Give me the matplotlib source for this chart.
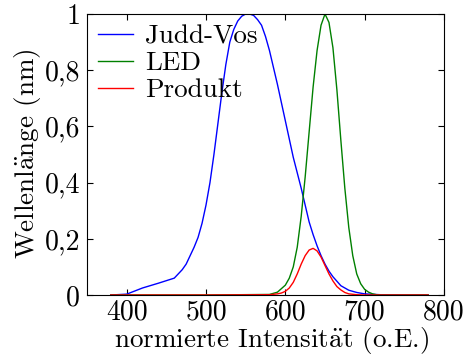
import matplotlib
matplotlib.use('Agg')
import matplotlib.pyplot as plt

# Judd-Vos V(lambda), normiert
wl_jv = [380, 400, 420, 440, 460, 470, 475, 480, 485, 490, 495, 500, 505, 510, 515,
         520, 525, 530, 535, 540, 545, 550, 555, 560, 565, 570, 575, 580, 585, 590,
         595, 600, 605, 610, 615, 620, 625, 630, 635, 640, 645, 650, 655, 660, 670,
         680, 690, 700, 720, 750, 780]
jv = [0.0, 0.003, 0.025, 0.042, 0.06, 0.09, 0.11, 0.14, 0.17, 0.205, 0.255, 0.32,
      0.40, 0.5, 0.61, 0.72, 0.82, 0.9, 0.945, 0.975, 0.992, 1.0, 1.0, 0.995, 0.98,
      0.96, 0.92, 0.87, 0.81, 0.75, 0.685, 0.62, 0.555, 0.49, 0.435, 0.38, 0.32,
      0.26, 0.215, 0.175, 0.14, 0.11, 0.085, 0.065, 0.033, 0.017, 0.009, 0.004,
      0.001, 0.0, 0.0]

# LED-Spektrum
wl_led = [380, 500, 580, 590, 600, 605, 610, 615, 620, 625, 630, 635, 640, 645, 650,
          655, 660, 665, 670, 675, 680, 685, 690, 695, 700, 705, 710, 715, 720, 780]
led = [0.0, 0.0, 0.002, 0.01, 0.035, 0.06, 0.1, 0.17, 0.28, 0.42, 0.58, 0.74, 0.87,
       0.96, 1.0, 0.97, 0.88, 0.73, 0.55, 0.38, 0.24, 0.14, 0.075, 0.04, 0.02, 0.01,
       0.004, 0.001, 0.0, 0.0]

# Produkt
wl_prod = [380, 500, 580, 590, 595, 600, 605, 610, 615, 620, 625, 630, 635, 640, 645,
           650, 655, 660, 665, 670, 675, 680, 690, 700, 780]
prod = [0.0, 0.0, 0.001, 0.004, 0.007, 0.013, 0.025, 0.045, 0.075, 0.11, 0.14, 0.16,
        0.166, 0.157, 0.135, 0.105, 0.075, 0.05, 0.03, 0.018, 0.009, 0.004, 0.001,
        0.0, 0.0]

xticks = [400, 500, 600, 700, 800]
yticks = [0, 0.2, 0.4, 0.6, 0.8, 1]
ytick_labels = ['0', '0,2', '0,4', '0,6', '0,8', '1']

plt.rcParams['font.family'] = ['cmr10', 'DejaVu Serif']
plt.rcParams['mathtext.fontset'] = 'cm'
plt.rcParams['axes.formatter.use_mathtext'] = True

W, H = 466, 359
fig = plt.figure(figsize=(W / 100, H / 100), dpi=100)
ax = fig.add_axes([87 / W, 1 - 295 / H, 357 / W, 281 / H])

ax.plot(wl_jv, jv, color='blue', lw=1.0, label='Judd-Vos')
ax.plot(wl_led, led, color='green', lw=1.0, label='LED')
ax.plot(wl_prod, prod, color='red', lw=1.0, label='Produkt')

ax.set_xlim(350, 800)
ax.set_ylim(0, 1)
ax.set_xticks(xticks)
ax.set_xticklabels([str(t) for t in xticks])
ax.set_yticks(yticks)
ax.set_yticklabels(ytick_labels)
ax.tick_params(direction='in', top=True, right=True, labelsize=20, length=4)
ax.tick_params(axis='x', pad=3)
ax.tick_params(axis='y', pad=5)

# Achsenbeschriftungen von Hand platziert
fig.text(271 / W, 1 - 347 / H, r'normierte Intensit$\ddot{\rm a}$t (o.E.)',
         fontsize=19.5, ha='center', va='baseline')
fig.text(28 / W, 1 - 154 / H, r'Wellenl$\ddot{\rm a}$nge (nm)',
         fontsize=19.5, ha='center', va='center', rotation=90)

ax.legend(loc='upper left', frameon=False, fontsize=19.5, handlelength=1.3,
          handletextpad=0.45, labelspacing=0.1, borderaxespad=0.0)

fig.savefig('out.png', dpi=100)
